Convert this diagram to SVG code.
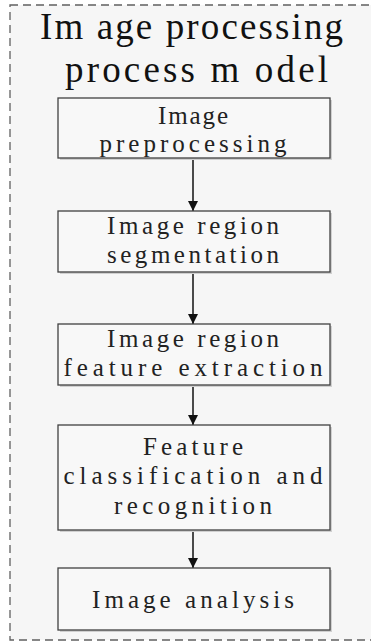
<svg xmlns="http://www.w3.org/2000/svg" width="371" height="641" viewBox="0 0 371 641">
<style>
.bg{fill:#f6f6f6;stroke:#606060;stroke-width:1.3;stroke-dasharray:8 5}
.box{fill:#f8f8f8;stroke:#404040;stroke-width:1.3}
.sh{fill:#d0d0d0}
.t{font-family:"Liberation Serif","DejaVu Serif",serif;font-size:25px;fill:#222;text-anchor:middle}
.title{font-family:"Liberation Serif","DejaVu Serif",serif;font-size:37px;fill:#111}
.c{stroke:#111;stroke-width:1.5;fill:none}
</style>
<defs>
<marker id="ah" viewBox="0 0 10 10" refX="10" refY="5" markerWidth="10" markerHeight="10" markerUnits="userSpaceOnUse" orient="auto">
<path d="M0,0 L10,5 L0,10 z" fill="#111"/>
</marker>
</defs>
<rect class="bg" x="10" y="5" width="380" height="635"/>
<g id="title">
<text class="title" x="40" y="39" textLength="303" lengthAdjust="spacing">Im age processing</text>
<text class="title" x="65" y="82" textLength="263" lengthAdjust="spacing">process m odel</text>
</g>
<g id="connectors">
<line class="c" x1="193" y1="158" x2="193" y2="211" marker-end="url(#ah)"/>
<line class="c" x1="193" y1="272" x2="193" y2="324" marker-end="url(#ah)"/>
<line class="c" x1="193" y1="385" x2="193" y2="425" marker-end="url(#ah)"/>
<line class="c" x1="193" y1="530" x2="193" y2="568" marker-end="url(#ah)"/>
</g>
<g id="n1">
<rect class="sh" x="60" y="100" width="272" height="60"/>
<rect class="box" x="58" y="98" width="272" height="60"/>
<text class="t" x="193" y="124" textLength="70" lengthAdjust="spacing">Image</text>
<text class="t" x="193" y="152" textLength="187" lengthAdjust="spacing">preprocessing</text>
</g>
<g id="n2">
<rect class="sh" x="60" y="213" width="272" height="61"/>
<rect class="box" x="58" y="211" width="272" height="61"/>
<text class="t" x="193" y="234" textLength="172" lengthAdjust="spacing">Image region</text>
<text class="t" x="193" y="263" textLength="172" lengthAdjust="spacing">segmentation</text>
</g>
<g id="n3">
<rect class="sh" x="60" y="326" width="272" height="61"/>
<rect class="box" x="58" y="324" width="272" height="61"/>
<text class="t" x="193" y="347" textLength="172" lengthAdjust="spacing">Image region</text>
<text class="t" x="193" y="376" textLength="259" lengthAdjust="spacing">feature extraction</text>
</g>
<g id="n4">
<rect class="sh" x="60" y="427" width="272" height="105"/>
<rect class="box" x="58" y="425" width="272" height="105"/>
<text class="t" x="193" y="455" textLength="100" lengthAdjust="spacing">Feature</text>
<text class="t" x="193" y="484" textLength="259" lengthAdjust="spacing">classification and</text>
<text class="t" x="193" y="514" textLength="158" lengthAdjust="spacing">recognition</text>
</g>
<g id="n5">
<rect class="sh" x="60" y="570" width="272" height="62"/>
<rect class="box" x="58" y="568" width="272" height="62"/>
<text class="t" x="193" y="608" textLength="202" lengthAdjust="spacing">Image analysis</text>
</g>
</svg>
